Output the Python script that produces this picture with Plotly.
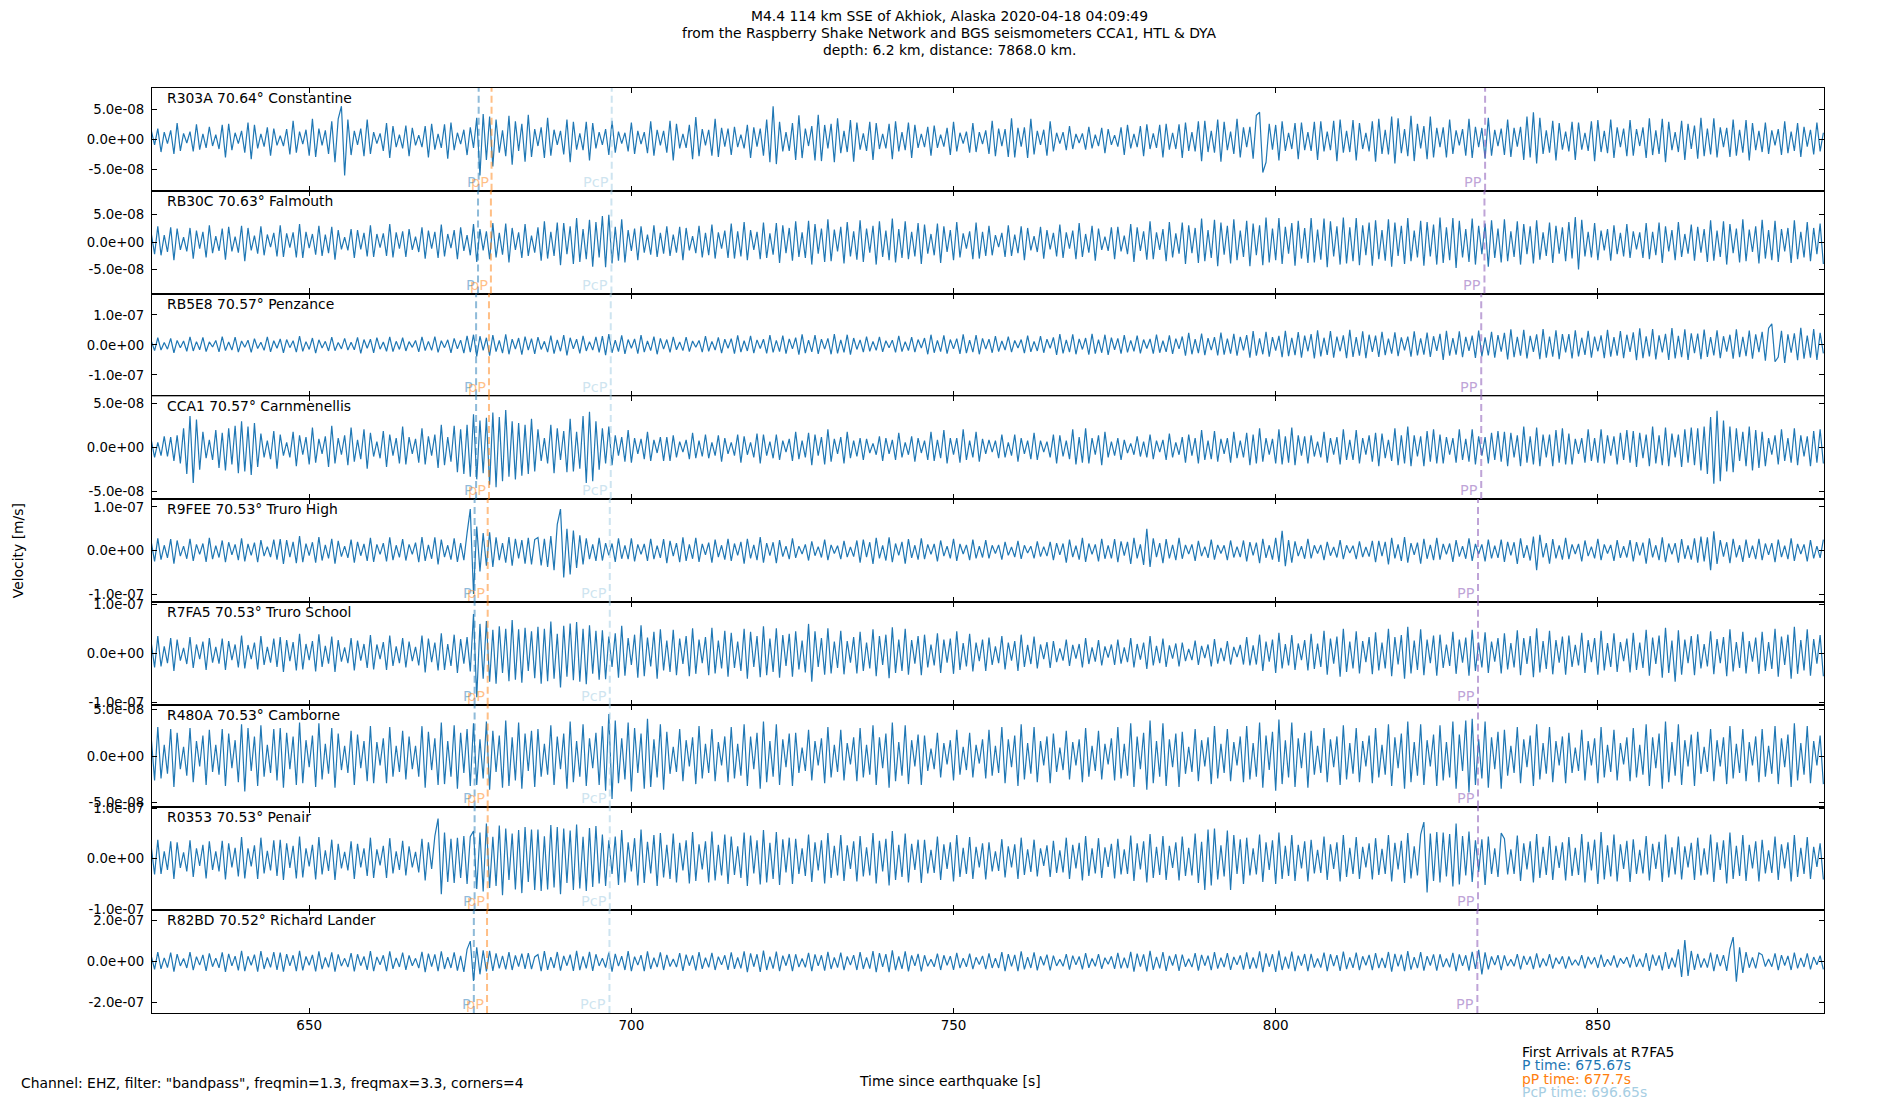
import numpy as np
import plotly.graph_objects as go
from plotly.subplots import make_subplots

# samples are velocity in nm/s, one every DT seconds starting at T0 (time since quake)
T0 = 625.5
DT = 0.5

R303A = [
    14,-9,18,-21,12,-7,15,-24,27,-19,10,-6,13,-20,25,-17,9,-14,21,-11,
    8,-16,24,-30,26,-18,11,-7,14,-22,28,-33,24,-15,9,-12,20,-27,18,-10,
    6,-11,17,-25,31,-22,13,-8,16,-27,34,-29,18,-10,15,-24,30,-38,34,55,
    -60,33,-26,14,-9,18,-28,33,-24,12,-7,10,-19,27,-31,22,-13,8,-15,23,
    -28,19,-10,7,-13,22,-30,26,-17,9,-14,25,-32,28,-18,11,-8,16,-26,20,
    -14,36,-60,42,-34,38,-45,33,-22,15,-28,39,-42,30,-19,26,-37,41,-29,17,
    -11,20,-31,36,-27,16,-9,14,-25,33,-38,29,-17,10,-18,29,-35,27,-15,12,
    -9,17,-26,31,-22,13,-7,11,-20,28,-24,14,-8,12,-23,30,-27,16,-10,14,
    -22,31,-35,26,-15,9,-14,24,-33,37,-28,17,-10,16,-27,34,-29,19,-12,18,
    -26,21,-13,8,-15,24,-31,20,-12,18,-27,33,-38,55,-41,29,-20,12,-19,27,
    -34,40,-31,18,-11,22,-35,41,-36,24,-15,26,-38,35,-23,14,-21,32,-37,28,
    -17,10,-19,29,-34,27,-16,9,-15,26,-33,30,-20,12,-18,28,-31,24,-14,9,
    -13,21,-27,23,-14,8,-12,19,-26,29,-20,11,-7,13,-22,27,-21,12,-8,15,
    -24,31,-28,18,-11,17,-29,35,-30,19,-12,20,-31,34,-25,14,-9,16,-27,30,
    -20,11,-7,12,-18,22,-16,9,-6,10,-17,21,-15,8,-11,19,-23,17,-9,7,
    -12,20,-26,24,-15,9,-13,22,-28,25,-16,10,-14,24,-30,26,-17,11,-16,25,
    -31,28,-19,12,-20,30,-36,31,-21,14,-22,33,-37,29,-18,13,-24,34,-30,20,
    -13,21,-32,40,45,-55,-38,26,-17,24,-35,30,-19,11,-16,27,-33,28,-18,12,
    -19,29,-34,30,-20,13,-18,31,-36,33,-22,14,-21,32,-35,27,-16,11,-20,30,
    -37,34,-24,16,-25,38,-40,35,-23,17,-28,39,-36,26,-15,22,-33,38,-30,19,
    -13,20,-30,33,-24,15,-10,17,-27,34,-31,21,-13,19,-32,36,-27,16,-11,18,
    -26,33,-29,19,-12,21,-34,38,-30,45,-40,36,-24,15,-22,31,-35,27,-17,13,
    -20,29,-34,28,-17,11,-19,30,-36,32,-21,14,-23,33,-31,20,-13,18,-28,32,
    -27,17,-11,20,-31,35,-26,15,-24,34,-38,29,-18,12,-21,31,-34,26,-16,23,
    -32,36,-28,18,-25,35,-30,20,-13,19,-29,33,-27,16,-22,32,-35,27,-18,14,
    -21,28,-24,15,-10,17,-26,30,-23,13,-19,27,-29,21,-12,16,-25,28,-20,11,
]

RB30C = [
    15,-22,29,-24,13,-18,27,-33,25,-14,9,-17,26,-30,21,-12,19,-28,31,-20,
    11,-16,25,-32,28,-17,10,-19,30,-35,26,-15,12,-21,29,-24,14,-9,17,-26,
    31,-27,16,-10,18,-28,33,-29,19,-11,15,-23,30,-25,14,-20,28,-32,22,-13,
    9,-15,24,-29,22,-13,17,-26,31,-27,15,-10,16,-25,33,-28,18,-12,20,-27,
    24,-14,10,-18,27,-30,21,-12,19,-29,32,-26,15,-11,22,-31,27,-16,13,-24,
    33,-36,24,-15,20,-31,35,-28,17,-23,34,-37,26,-14,18,-29,33,-25,12,-19,
    27,-34,38,-30,19,-25,36,-42,35,-22,29,-40,44,-36,24,-31,41,-45,37,-28,
    48,-46,50,-39,28,-34,42,-37,22,-16,25,-33,29,-19,14,-23,31,-27,17,-21,
    29,-25,14,-19,28,-33,26,-15,11,-20,30,-28,17,-24,32,-30,18,-12,21,-29,
    34,-30,20,-26,37,-33,22,-14,19,-31,36,-29,16,-23,35,-38,31,-20,26,-34,
    38,-27,18,-29,39,-41,33,-21,25,-36,42,-35,23,-17,28,-39,37,-26,20,-32,
    40,-36,25,-19,30,-41,38,-27,21,-33,43,-37,24,-29,38,-31,19,-26,35,-40,
    32,-21,15,-24,34,-38,29,-18,22,-33,37,-28,16,-12,20,-31,36,-30,19,-25,
    30,-24,13,-9,17,-27,31,-25,14,-20,29,-33,26,-15,11,-18,28,-30,22,-13,
    17,-26,32,-29,18,-12,21,-31,35,-27,15,-19,30,-34,25,-14,10,-16,27,-31,
    28,-17,12,-22,33,-36,27,-16,20,-32,38,-31,18,-14,24,-35,37,-28,16,-21,
    36,-40,31,-20,26,-38,43,-35,22,-29,41,-44,36,-23,30,-39,42,-33,21,-27,
    39,-44,34,-24,31,-42,45,-37,25,-33,44,-40,28,-21,35,-43,39,-30,26,-38,
    44,-37,23,-32,43,-46,38,-26,29,-41,45,-39,27,-35,44,-42,31,-24,36,-43,
    40,-31,22,-34,42,-45,36,-25,30,-40,44,-35,21,-28,39,-43,37,-26,32,-41,
    45,-38,27,-33,44,-47,39,-28,24,-36,43,-41,30,-22,34,-45,40,-29,25,-37,
    42,-35,20,-27,38,-41,33,-22,29,-39,40,-32,18,-25,36,-38,30,-21,27,-35,
    37,-30,46,-50,41,-26,19,-28,35,-33,21,-15,24,-34,31,-22,17,-26,33,-29,
    20,-13,18,-29,35,-31,19,-24,36,-38,29,-17,22,-33,37,-27,15,-21,32,-34,
    28,-19,24,-36,40,-34,21,-27,38,-41,33,-20,25,-37,42,-35,23,-18,29,-39,
    41,-30,22,-33,39,-36,24,-17,26,-38,40,-31,19,-28,37,-35,26,-22,34,-40,
]

RB5E8 = [
    12,-19,24,-17,8,-14,22,-26,15,-9,13,-21,27,-20,11,-16,25,-22,10,-7,
    15,-23,28,-19,10,-17,26,-24,13,-8,16,-25,21,-12,9,-18,27,-23,14,-11,
    20,-26,18,-9,14,-24,29,-21,11,-15,23,-27,17,-10,12,-20,26,-19,8,-13,
    22,-17,9,-16,25,-28,18,-11,19,-26,24,-14,10,-21,27,-22,12,-15,24,-20,
    11,-8,15,-23,27,-19,12,-18,28,-25,14,-9,17,-26,22,-13,16,-27,30,-24,
    34,-38,29,-18,24,-36,33,-22,15,-27,35,-31,19,-14,23,-32,28,-17,21,-30,
    26,-15,12,-24,31,-29,17,-21,33,-35,24,-13,19,-28,30,-20,11,-17,27,-25,
    29,-34,36,-26,16,-22,32,-30,18,-11,20,-29,33,-24,13,-19,28,-31,22,-14,
    18,-25,27,-16,10,-19,26,-22,13,-8,15,-24,29,-21,12,-17,25,-27,19,-11,
    21,-29,32,-24,14,-20,30,-27,17,-12,19,-28,33,-25,15,-22,31,-29,20,-13,
    24,-32,35,-27,16,-23,33,-30,19,-14,22,-31,36,-28,17,-25,34,-32,23,-15,
    17,-24,28,-21,12,-18,27,-23,14,-9,16,-25,30,-22,11,-19,26,-24,18,-10,
    23,-31,34,-26,15,-22,32,-29,18,-13,21,-30,35,-27,16,-24,33,-31,22,-14,
    19,-26,29,-22,13,-17,28,-24,15,-10,18,-27,31,-23,12,-20,29,-26,19,-11,
    25,-33,36,-28,17,-24,35,-31,20,-15,23,-32,37,-29,18,-26,34,-33,24,-16,
    22,-29,33,-25,15,-21,31,-28,18,-12,20,-29,34,-26,14,-23,32,-30,21,-13,
    28,-36,40,-31,19,-27,38,-34,23,-17,26,-35,41,-32,21,-29,37,-36,27,-18,
    33,-42,46,-36,22,-31,44,-39,26,-19,30,-41,47,-37,24,-34,43,-42,31,-21,
    36,-45,49,-38,24,-33,46,-42,28,-21,32,-44,50,-40,26,-36,45,-44,34,-23,
    31,-40,44,-34,21,-29,42,-37,25,-18,28,-39,45,-35,22,-32,41,-40,29,-20,
    37,-50,47,-36,23,-32,45,-41,27,-20,31,-43,48,-38,25,-35,44,-42,33,-22,
    40,-48,52,-41,27,-36,50,-45,30,-23,35,-47,53,-42,28,-39,49,-47,36,-25,
    36,-45,49,-38,24,-33,47,-42,28,-21,32,-44,50,-39,26,-36,46,-44,34,-23,
    42,-51,55,-44,29,-38,53,-48,32,-25,37,-50,56,-45,30,-41,52,-50,39,-27,
    38,-47,51,-40,26,-35,49,-44,29,-22,34,-46,52,-41,27,-37,48,-46,35,-24,
    44,-52,56,70,-56,-40,47,-60,35,-26,39,-51,57,-46,31,-42,53,-50,40,-28,
]

CCA1 = [
    8,-11,6,-9,13,-10,12,-15,14,-18,22,-30,36,-40,32,-25,18,-12,9,-14,
    20,-23,17,-26,22,-19,25,-29,30,-27,24,-31,28,-22,16,-11,8,-13,19,-24,
    15,-9,6,-11,18,-21,14,-8,12,-19,23,-17,10,-7,13,-22,25,-18,11,-8,
    14,-20,23,-16,9,-13,21,-24,17,-10,7,-12,19,-22,15,-9,11,-18,24,-19,
    12,-7,10,-17,22,-19,13,-9,15,-23,26,-20,12,-16,25,-28,21,-30,26,-33,
    38,-36,31,-29,34,-42,40,-45,35,-38,43,-33,30,-36,28,-32,26,-30,33,-27,
    21,-15,11,-18,26,-29,22,-14,19,-28,33,-27,18,-24,36,-40,41,-38,30,-25,
    22,-18,24,-20,14,-9,12,-16,20,-17,11,-7,10,-13,18,-15,9,-6,12,-15,
    12,-15,14,-11,7,-5,9,-13,17,-12,8,-10,15,-12,6,-9,14,-16,11,-7,
    6,-9,15,-17,13,-8,6,-11,16,-18,15,-9,7,-12,15,-14,8,-5,10,-15,
    18,-13,8,-11,17,-20,15,-9,12,-19,21,-16,10,-7,12,-18,18,-12,8,-10,
    11,-14,10,-6,5,-8,13,-15,11,-7,9,-14,17,-11,6,-8,13,-16,11,-6,
    8,-14,18,-15,9,-12,20,-18,11,-8,11,-17,21,-14,8,-11,18,-16,10,-7,
    9,-5,8,-12,15,-11,6,-9,15,-16,11,-7,8,-13,17,-14,8,-5,7,-11,
    15,-18,14,-10,8,-13,21,-19,12,-17,22,-18,11,-8,14,-20,18,-11,7,-9,
    11,-14,9,-6,5,-8,13,-10,7,-11,15,-13,8,-5,9,-14,16,-11,6,-8,
    12,-17,15,-9,11,-18,20,-14,8,-13,19,-16,10,-7,11,-17,18,-12,8,-11,
    17,-20,15,-18,22,-16,11,-8,10,-18,21,-19,13,-17,23,-20,14,-9,13,-18,
    14,-10,7,-11,18,-17,11,-8,12,-19,21,-14,9,-14,20,-18,11,-8,14,-16,
    17,-21,16,-12,9,-15,22,-20,14,-18,24,-21,14,-10,13,-21,19,-16,21,-18,
    15,-18,12,-8,11,-17,21,-14,10,-16,21,-19,13,-9,12,-18,17,-14,19,-16,
    18,-21,17,-11,14,-21,24,-17,13,-19,23,-21,15,-11,15,-21,20,-17,22,-19,
    16,-19,10,-7,11,-17,21,-15,11,-17,21,-18,14,-9,13,-19,17,-14,20,-17,
    19,-22,17,-12,15,-21,24,-18,14,-20,23,-21,16,-11,15,-22,21,-17,23,-20,
    22,-26,24,-30,35,-41,42,-38,31,-27,24,-28,22,-15,18,-21,24,-26,20,-23,
    18,-21,11,-8,14,-19,21,-15,11,-17,22,-20,14,-10,13,-21,19,-17,21,-18,
]

R9FEE = [
    18,-25,28,-21,12,-17,26,-30,23,-13,10,-19,27,-24,14,-9,16,-26,29,-20,
    11,-16,23,-27,19,-10,14,-22,28,-25,15,-11,18,-27,24,-13,9,-15,25,-21,
    26,-31,24,-15,20,-29,33,-27,16,-12,19,-28,31,-23,13,-18,27,-30,22,-14,
    10,-17,25,-28,20,-12,15,-24,29,-26,14,-9,17,-25,30,-22,12,-16,26,-23,
    14,-9,18,-27,31,-24,13,-19,30,-32,25,-15,12,-21,28,-26,17,-22,40,95,
    -100,55,-48,40,-35,42,-38,30,-22,17,-28,31,-35,27,-18,24,-30,29,-32,25,
    30,-34,27,-38,33,-45,60,95,-62,50,-55,46,-40,35,-32,28,-20,14,-24,29,
    -23,17,-11,16,-26,28,-19,12,-20,28,-25,14,-9,15,-24,27,-20,11,-17,26,
    -29,22,-13,17,-27,30,-24,14,-19,29,-26,15,-10,18,-28,25,-15,12,-21,27,
    -24,16,-11,20,-30,27,-18,13,-22,31,-28,17,-12,19,-29,24,-14,10,-20,28,
    -17,10,-8,14,-23,21,-12,9,-16,25,-22,13,-7,11,-20,22,-15,8,-14,23,
    -28,25,-15,19,-31,29,-18,12,-23,30,-27,16,-11,20,-30,26,-17,12,-21,28,
    -20,14,-9,15,-25,23,-13,10,-18,27,-24,15,-8,13,-22,25,-18,10,-16,24,
    -18,12,-7,13,-21,20,-11,8,-15,22,-19,12,-6,10,-18,21,-14,9,-13,20,
    -22,17,-10,16,-28,25,-15,11,-21,29,-26,16,-9,14,-25,27,-19,12,-18,26,
    -27,21,-12,20,-31,29,-18,14,-33,50,-38,28,-15,17,-29,26,-18,13,-22,29,
    -19,13,-8,14,-24,22,-13,9,-17,25,-21,13,-7,12,-22,23,-16,9,-15,23,
    -25,19,-11,18,-29,27,-17,12,-21,29,-26,45,-36,24,-28,21,-13,10,-19,27,
    -18,12,-7,13,-22,20,-12,8,-16,24,-20,12,-6,11,-20,21,-15,8,-14,22,
    -27,22,-13,20,-32,29,-18,14,-24,31,-28,17,-10,18,-30,27,-19,13,-22,29,
    -21,15,-9,16,-26,24,-14,10,-19,28,-24,15,-8,14,-25,25,-18,11,-17,25,
    -26,20,-11,19,-31,28,-17,12,-23,32,-45,36,-16,17,-30,26,-18,12,-21,29,
    -20,14,-8,15,-25,23,-13,9,-18,27,-22,14,-7,13,-24,24,-17,10,-16,24,
    -25,19,-11,18,-30,28,-16,12,-22,30,-27,16,-9,17,-28,26,-19,12,-21,28,
    -28,32,-25,30,-45,44,-31,24,-14,19,-29,27,-16,12,-26,25,-17,11,-20,27,
    -22,16,-10,17,-27,25,-15,11,-20,28,-24,15,-8,14,-25,24,-18,10,-17,25,
]

R7FA5 = [
    20,-29,35,-27,14,-20,31,-36,28,-15,11,-22,33,-30,18,-12,24,-34,31,-19,
    13,-21,30,-34,25,-14,18,-29,36,-31,17,-12,22,-33,35,-24,13,-19,30,-28,
    33,-38,27,-16,23,-35,40,-33,19,-14,25,-37,39,-28,15,-21,34,-38,27,-17,
    12,-20,31,-35,26,-15,19,-30,37,-33,18,-12,23,-34,36,-26,14,-20,31,-29,
    24,-16,13,-25,36,-39,30,-18,22,-35,41,-34,19,-26,38,-40,29,-21,33,-37,
    80,-90,60,-52,66,-58,48,-62,55,-40,50,-57,68,-54,49,-60,52,-36,45,-51,
    54,-62,50,-57,65,-52,40,-70,56,-48,61,-55,64,-58,50,-63,57,-42,46,-54,
    47,-53,34,-28,41,-50,56,-46,31,-24,38,-50,57,-47,32,-27,44,-52,49,-35,
    26,-38,48,-45,30,-22,35,-47,51,-42,28,-20,33,-45,52,-41,26,-31,46,-48,
    42,-30,24,-36,50,-52,44,-28,35,-49,55,-45,30,-38,51,-50,37,-26,40,-48,
    45,-33,26,-39,60,-58,45,-28,31,-44,51,-41,24,-30,46,-43,25,-19,33,-41,
    44,-36,22,-31,49,-47,35,-24,38,-51,53,-40,28,-36,50,-44,27,-21,35,-45,
    38,-29,18,-25,41,-40,28,-19,30,-42,45,-34,21,-27,40,-37,22,-16,28,-36,
    32,-24,14,-20,35,-33,22,-15,25,-36,38,-28,17,-22,34,-31,18,-12,23,-30,
    25,-18,10,-15,28,-26,17,-11,19,-29,31,-22,12,-17,27,-25,14,-9,18,-24,
    28,-21,12,-18,31,-29,19,-13,22,-32,35,-25,15,-20,30,-28,16,-11,20,-27,
    22,-16,9,-14,26,-24,15,-10,18,-27,29,-21,11,-16,25,-23,13,-8,17,-23,
    33,-25,16,-23,38,-36,24,-17,28,-40,42,-31,19,-25,37,-34,20,-14,27,-35,
    40,-32,20,-28,46,-44,30,-21,34,-48,50,-38,24,-31,45,-41,25,-18,33,-43,
    43,-35,22,-31,50,-47,33,-23,37,-52,54,-41,26,-34,49,-45,28,-20,36,-46,
    38,-30,18,-26,44,-42,28,-19,32,-46,48,-36,22,-29,43,-40,24,-17,31,-41,
    41,-33,21,-29,47,-45,31,-22,35,-49,51,-39,25,-32,46,-43,27,-19,34,-44,
    36,-28,17,-25,42,-40,27,-18,31,-44,46,-35,21,-28,41,-38,23,-16,30,-39,
    42,-34,22,-30,48,-46,32,-22,36,-50,52,-40,26,-58,47,-44,28,-20,35,-45,
    39,-31,19,-27,45,-43,29,-20,33,-47,49,-37,23,-30,44,-41,25,-17,32,-42,
    44,-36,23,-32,50,-48,34,-24,38,-52,54,-42,27,-35,49,-46,29,-21,37,-47,
]

R480A = [
    18,-26,31,-24,12,-19,29,-33,25,-14,10,-21,30,-28,16,-11,22,-31,28,-17,
    12,-20,29,-32,24,-13,17,-28,34,-38,30,-16,21,-32,33,-22,12,-18,29,-26,
    30,-34,25,-14,21,-31,36,-29,17,-12,22,-33,35,-25,13,-19,30,-34,24,-15,
    11,-18,27,-31,23,-13,16,-27,32,-29,15,-10,19,-29,31,-22,11,-17,27,-25,
    21,-14,11,-22,32,-34,26,-15,19,-31,36,-30,16,-22,33,-35,25,-18,29,-32,
    35,-31,18,-24,37,-36,27,-17,22,-34,38,-32,20,-26,36,-35,24,-16,27,-33,
    29,-22,13,-20,33,-31,21,-14,24,-35,37,-28,16,-22,34,-32,19,-13,25,-31,
    32,-37,45,-46,38,-29,19,-25,36,-38,30,-18,24,-35,40,-33,18,-23,34,-36,
    26,-19,10,-17,29,-27,17,-11,20,-30,32,-24,13,-18,29,-27,15,-10,21,-28,
    31,-24,13,-21,34,-32,21,-14,25,-35,37,-28,16,-22,34,-31,18,-12,24,-32,
    25,-18,9,-16,28,-26,16,-10,19,-29,31,-23,12,-17,28,-26,14,-9,20,-27,
    30,-23,12,-20,33,-31,20,-13,24,-34,36,-27,15,-21,33,-30,17,-11,23,-31,
    22,-16,8,-14,25,-23,14,-9,17,-26,28,-20,10,-15,25,-23,12,-8,18,-24,
    28,-21,11,-18,31,-29,18,-12,22,-32,34,-25,14,-19,31,-28,16,-10,21,-29,
    24,-17,9,-15,27,-25,15,-10,18,-28,30,-22,11,-16,27,-25,13,-9,19,-26,
    31,-24,13,-21,35,-33,21,-14,25,-36,38,-29,16,-22,35,-32,18,-12,24,-33,
    26,-19,10,-17,29,-27,17,-11,20,-30,32,-24,13,-18,29,-27,15,-10,21,-28,
    32,-25,14,-22,36,-34,22,-15,26,-37,39,-30,17,-23,36,-33,19,-13,25,-34,
    27,-20,11,-18,30,-28,18,-12,21,-31,33,-25,14,-19,30,-28,16,-11,22,-29,
    30,-23,12,-20,34,-32,20,-13,24,-35,37,-28,15,-21,34,-31,17,-11,23,-32,
    33,-26,15,-23,37,-35,23,-16,38,-39,40,-31,18,-24,37,-34,20,-14,26,-35,
    28,-21,11,-18,31,-29,18,-12,22,-32,34,-25,14,-19,31,-28,16,-10,21,-29,
    25,-18,9,-16,28,-26,16,-10,19,-29,31,-23,12,-17,28,-26,14,-9,20,-27,
    30,-23,12,-20,34,-32,20,-13,24,-35,37,-28,15,-21,34,-31,17,-11,23,-32,
    26,-19,10,-17,29,-27,17,-11,20,-30,32,-24,13,-18,29,-27,15,-10,21,-28,
    29,-22,11,-19,32,-30,19,-12,23,-33,35,-26,14,-20,32,-29,16,-10,22,-30,
]

R0353 = [
    22,-31,38,-30,15,-22,35,-40,33,-18,13,-25,37,-36,21,-14,28,-39,35,-22,
    15,-25,36,-41,31,-17,22,-35,43,-39,21,-15,27,-40,42,-29,16,-23,37,-34,
    38,-42,31,-18,26,-39,44,-37,21,-15,28,-41,43,-31,17,-24,38,-42,30,-19,
    14,-23,35,-40,30,-17,21,-34,42,-38,19,-13,26,-38,41,-29,15,-22,36,-33,
    25,-17,14,-27,40,-43,33,-20,45,80,-70,52,-46,40,-48,42,-38,45,-50,44,
    55,-60,52,-65,70,-58,44,-54,66,-72,60,-42,50,-61,57,-68,63,-46,58,-62,
    58,-64,45,-61,67,-57,63,-70,60,-48,56,-62,68,-59,44,-64,61,-56,65,-49,
    48,-54,37,-30,44,-52,57,-47,33,-25,41,-53,58,-48,34,-29,47,-54,51,-37,
    28,-40,50,-47,32,-23,37,-49,53,-44,29,-21,35,-47,54,-43,28,-33,48,-50,
    44,-32,25,-38,52,-54,46,-29,37,-51,57,-47,32,-40,53,-52,39,-27,42,-50,
    40,-30,21,-34,48,-46,33,-23,37,-49,51,-38,26,-33,47,-44,27,-20,35,-45,
    45,-35,23,-33,51,-49,36,-25,40,-53,55,-42,28,-36,50,-47,30,-22,38,-48,
    38,-29,18,-28,44,-42,29,-20,33,-45,47,-36,22,-30,43,-40,24,-17,31,-41,
    33,-25,15,-24,39,-37,25,-17,29,-40,42,-32,19,-26,38,-35,21,-14,27,-36,
    36,-28,17,-27,42,-40,28,-19,32,-43,45,-34,21,-29,41,-38,23,-16,30,-39,
    40,-31,19,-30,46,-44,31,-21,35,-47,49,-38,24,-32,45,-42,26,-18,33,-43,
    44,-34,22,-33,50,-48,34,-62,58,-53,60,-41,27,-35,56,-62,47,-30,39,-50,
    42,-33,21,-31,48,-46,33,-22,37,-50,52,-40,26,-34,47,-44,28,-19,35,-45,
    38,-29,18,-28,44,-42,29,-20,33,-45,47,-36,22,-30,43,-40,24,-17,31,-41,
    41,-32,20,-30,47,-45,32,-21,36,-48,51,-39,25,-33,48,73,-67,50,-44,53,
    -47,52,-35,49,-55,70,-51,45,-33,54,-46,37,-26,39,-52,44,-30,21,-36,51,
    40,-31,19,-30,46,-44,31,-21,35,-47,49,-38,24,-32,45,-42,26,-18,33,-43,
    43,-34,22,-32,49,-47,34,-23,38,-50,53,-41,27,-35,48,-45,29,-20,36,-46,
    39,-30,18,-29,45,-43,30,-20,34,-46,48,-37,23,-31,44,-41,25,-17,32,-42,
    42,-33,21,-31,48,-46,33,-22,37,-49,52,-40,26,-34,47,-44,28,-19,35,-45,
    38,-29,17,-28,44,-42,29,-19,33,-45,47,-36,22,-30,43,-40,24,-16,31,-41,
]

R82BD = [
    26,-38,47,-35,18,-29,44,-49,37,-21,15,-31,46,-42,24,-17,33,-45,40,-25,
    17,-30,45,-50,38,-21,27,-43,53,-47,26,-18,34,-49,51,-36,20,-28,46,-41,
    44,-49,37,-21,31,-46,52,-43,25,-18,33,-48,50,-37,20,-28,45,-49,35,-22,
    16,-27,42,-48,36,-20,25,-40,51,-46,23,-15,31,-46,50,-35,18,-26,44,-40,
    30,-20,16,-32,48,-51,39,-24,35,-47,50,-36,22,-31,45,-44,28,-50,60,100,
    -95,70,-62,55,-48,52,-45,40,-33,28,-38,46,-41,30,-24,39,-35,42,-37,23,
    35,-46,51,-40,22,-31,47,-44,28,-20,34,-45,52,-42,25,-33,48,-45,36,-21,
    17,-29,44,-49,38,-22,27,-41,51,-46,24,-17,32,-47,50,-36,19,-27,45,-41,
    33,-24,13,-27,42,-45,34,-20,30,-43,47,-35,19,-28,43,-41,24,-16,31,-40,
    45,-35,20,-33,50,-51,40,-25,36,-50,54,-41,24,-34,49,-47,29,-20,37,-47,
    36,-27,15,-28,43,-46,35,-21,31,-44,48,-36,20,-29,44,-42,25,-17,32,-41,
    46,-36,21,-34,51,-52,41,-26,37,-51,55,-42,25,-35,50,-48,30,-21,38,-48,
    31,-23,12,-25,39,-41,31,-18,27,-40,43,-32,17,-25,39,-37,21,-14,28,-37,
    40,-31,17,-31,46,-47,37,-23,33,-46,50,-38,22,-31,45,-43,26,-18,34,-43,
    29,-21,11,-23,37,-39,29,-16,25,-38,41,-30,15,-23,37,-35,19,-13,26,-35,
    43,-33,19,-32,48,-49,39,-24,35,-48,52,-40,23,-33,47,-45,28,-19,36,-45,
    34,-25,14,-27,41,-44,33,-20,29,-42,46,-34,19,-27,42,-40,23,-16,30,-39,
    45,-35,20,-33,50,-51,40,-25,36,-50,54,-41,24,-34,49,-47,29,-20,37,-47,
    38,-29,16,-29,44,-46,36,-22,32,-45,49,-37,21,-30,44,-42,26,-18,33,-42,
    42,-32,18,-31,47,-49,38,-23,34,-47,51,-39,22,-32,46,-44,27,-19,35,-44,
    36,-27,15,-28,43,-46,35,-21,31,-44,48,-36,58,-62,45,-38,25,-17,32,-41,
    30,-22,11,-23,37,-38,28,-16,25,-37,40,-29,15,-22,36,-34,19,-12,26,-34,
    25,-18,9,-19,31,-33,24,-13,21,-31,34,-25,12,-19,30,-29,16,-10,22,-29,
    35,-26,14,-27,42,-45,34,-20,30,-43,47,-35,19,-28,60,-75,105,-70,52,-40,
    38,-29,16,-29,44,-46,36,-22,32,-45,62,120,-98,70,-55,46,-30,21,-33,42,
    33,-24,13,-25,40,-42,32,-19,28,-41,44,-33,18,-26,40,-38,22,-15,29,-38,
]

STATIONS = ["R303A", "RB30C", "RB5E8", "CCA1", "R9FEE", "R7FA5", "R480A", "R0353", "R82BD"]
DISTANCES = [70.64, 70.63, 70.57, 70.57, 70.53, 70.53, 70.53, 70.53, 70.52]
PLACES = ["Constantine", "Falmouth", "Penzance", "Carnmenellis", "Truro High",
          "Truro School", "Camborne", "Penair", "Richard Lander"]
TRACES = [R303A, RB30C, RB5E8, CCA1, R9FEE, R7FA5, R480A, R0353, R82BD]

# arrival times per station [s]
P_TIMES = [676.3, 676.2, 675.9, 675.9, 675.67, 675.67, 675.67, 675.67, 675.55]
pP_TIMES = [678.3, 678.2, 677.9, 677.9, 677.7, 677.7, 677.7, 677.7, 677.6]
PcP_TIMES = [696.95, 696.9, 696.8, 696.8, 696.65, 696.65, 696.65, 696.65, 696.6]
PP_TIMES = [832.5, 832.4, 831.9, 831.9, 831.4, 831.4, 831.4, 831.4, 831.3]

X_TICKS = [650, 700, 750, 800, 850]
Y_STEPS = [5e-8, 5e-8, 1e-7, 5e-8, 1e-7, 1e-7, 5e-8, 1e-7, 2e-7]
Y_TICK_TEXT = [
    ["-5.0e-08", "0.0e+00", "5.0e-08"],
    ["-5.0e-08", "0.0e+00", "5.0e-08"],
    ["-1.0e-07", "0.0e+00", "1.0e-07"],
    ["-5.0e-08", "0.0e+00", "5.0e-08"],
    ["-1.0e-07", "0.0e+00", "1.0e-07"],
    ["-1.0e-07", "0.0e+00", "1.0e-07"],
    ["-5.0e-08", "0.0e+00", "5.0e-08"],
    ["-1.0e-07", "0.0e+00", "1.0e-07"],
    ["-2.0e-07", "0.0e+00", "2.0e-07"],
]

TITLE_LINES = [
    "M4.4 114 km SSE of Akhiok, Alaska 2020-04-18 04:09:49",
    "from the Raspberry Shake Network and BGS seismometers CCA1, HTL & DYA",
    "depth: 6.2 km, distance: 7868.0 km.",
]

# half height of each panel's y range
y_half = [8.53e-8, 9.4e-8, 1.71e-7, 5.85e-8, 1.18e-7, 1.05e-7, 5.5e-8, 1.02e-7, 2.51e-7]

phases = [
    ("P", P_TIMES, "rgba(31,119,180,0.5)"),
    ("pP", pP_TIMES, "rgba(255,127,14,0.5)"),
    ("PcP", PcP_TIMES, "rgba(166,206,227,0.55)"),
    ("PP", PP_TIMES, "rgba(148,103,189,0.6)"),
]

FONT = "DejaVu Sans"
FS = 13.9

fig = make_subplots(rows=len(STATIONS), cols=1, shared_xaxes=True, vertical_spacing=0)

for i, vel in enumerate(TRACES):
    row = i + 1
    v = np.array(vel) * 1e-9
    t = T0 + DT * np.arange(len(v))
    fig.add_trace(
        go.Scatter(x=t, y=v, mode="lines", line=dict(color="#1f77b4", width=1.2),
                   showlegend=False, hoverinfo="skip"),
        row=row, col=1,
    )
    ax = "" if row == 1 else str(row)
    for name, times, color in phases:
        tt = times[i]
        fig.add_shape(type="line", xref=f"x{ax}", yref=f"y{ax} domain",
                      x0=tt, x1=tt, y0=0, y1=1,
                      line=dict(color=color, width=2, dash="7px,4px"))
        fig.add_annotation(xref=f"x{ax}", yref=f"y{ax} domain", x=tt, y=0,
                           xanchor="right", yanchor="bottom", xshift=-1, yshift=-1,
                           text=name, showarrow=False,
                           font=dict(family=FONT, size=14.5, color=color))
    fig.add_annotation(xref=f"x{ax} domain", yref=f"y{ax} domain", x=0.008, y=1,
                       xanchor="left", yanchor="top",
                       text=f"{STATIONS[i]} {DISTANCES[i]:.2f}° {PLACES[i]}",
                       showarrow=False, font=dict(family=FONT, size=FS, color="black"))
    s = Y_STEPS[i]
    fig.update_yaxes(row=row, col=1, range=[-y_half[i], y_half[i]],
                     tickvals=[-s, 0, s], ticktext=Y_TICK_TEXT[i])

fig.update_xaxes(range=[625.6, 885.1], tickvals=X_TICKS, ticks="inside", ticklen=5,
                 tickcolor="black", showline=True, linecolor="black", linewidth=1.2,
                 mirror="ticks", showgrid=False, zeroline=False,
                 tickfont=dict(family=FONT, size=13.5, color="black"))
fig.update_yaxes(ticks="inside", ticklen=5, tickcolor="black", showline=True,
                 linecolor="black", linewidth=1.2, mirror="ticks", showgrid=False,
                 zeroline=False, ticklabelstandoff=4,
                 tickfont=dict(family=FONT, size=13.3, color="black"))

# title, three lines centred on the figure
for txt, yy in zip(TITLE_LINES, [1.0779, 1.0595, 1.0411]):
    fig.add_annotation(xref="paper", yref="paper", x=0.4771, y=yy, text=txt,
                       showarrow=False, xanchor="center", yanchor="middle",
                       font=dict(family=FONT, size=FS, color="black"))

# text around the panels
fig.add_annotation(xref="paper", yref="paper", x=0.4771, y=-0.074, text="Time since earthquake [s]",
                   showarrow=False, xanchor="center", yanchor="middle",
                   font=dict(family=FONT, size=FS, color="black"))
fig.add_annotation(xref="paper", yref="paper", x=-0.0803, y=0.5, text="Velocity [m/s]",
                   textangle=-90, showarrow=False, xanchor="center", yanchor="middle",
                   font=dict(family=FONT, size=FS, color="black"))
fig.add_annotation(xref="paper", yref="paper", x=-0.0795, y=-0.076,
                   text='Channel: EHZ, filter: "bandpass", freqmin=1.3, freqmax=3.3, corners=4',
                   showarrow=False, xanchor="left", yanchor="middle",
                   font=dict(family=FONT, size=FS, color="black"))

arrival_box = [
    ("First Arrivals at R7FA5", "black", -0.0422),
    ("P time: 675.67s", "#1f77b4", -0.0566),
    ("pP time: 677.7s", "#ff7f0e", -0.0714),
    ("PcP time: 696.65s", "#a6cee3", -0.0855),
]
for txt, col, yy in arrival_box:
    fig.add_annotation(xref="paper", yref="paper", x=0.8181, y=yy, text=txt,
                       showarrow=False, xanchor="left", yanchor="middle",
                       font=dict(family=FONT, size=FS, color=col))

fig.update_layout(
    width=1900, height=1100,
    margin=dict(l=144, r=84, t=80, b=95),
    paper_bgcolor="white", plot_bgcolor="white",
    font=dict(family=FONT, size=FS, color="black"),
    hovermode=False,
)

fig.write_html("out.html")
